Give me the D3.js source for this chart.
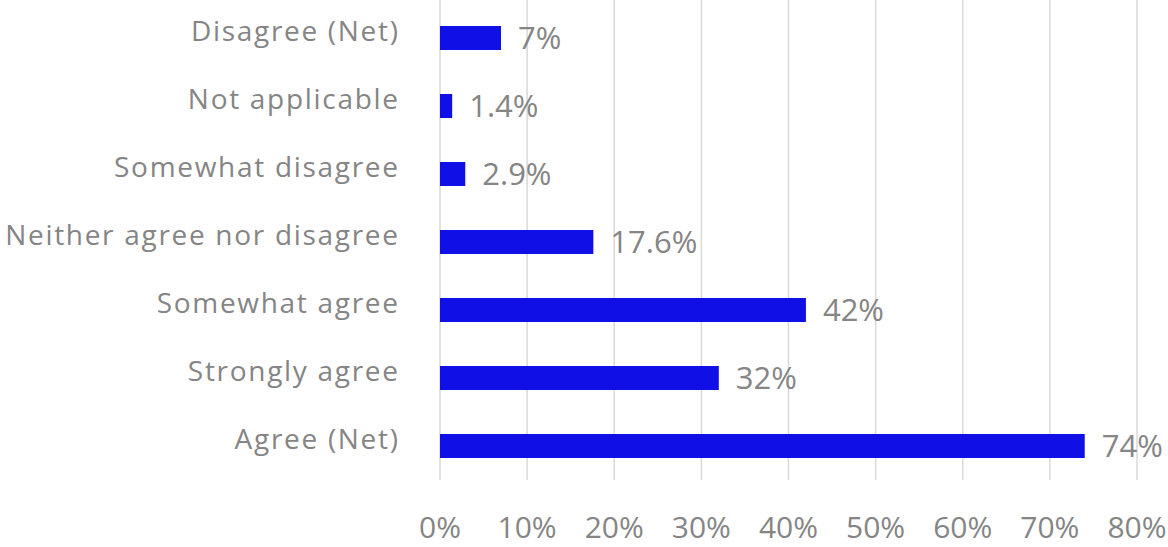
<!DOCTYPE html>
<html>
<head>
<meta charset="utf-8">
<script src="https://cdn.jsdelivr.net/npm/d3@7/dist/d3.min.js"></script>
<style>
  html, body { margin: 0; padding: 0; background: #fff; }
  svg text { font-family: "Open Sans", Lato, sans-serif; font-weight: 400; fill: #858585; }
</style>
</head>
<body>
<svg id="chart" width="1168" height="547"></svg>
<script>
// Survey responses, top to bottom
const categories = [
  "Disagree (Net)",
  "Not applicable",
  "Somewhat disagree",
  "Neither agree nor disagree",
  "Somewhat agree",
  "Strongly agree",
  "Agree (Net)"
];
const values = [7, 1.4, 2.9, 17.6, 42, 32, 74];
const valueLabels = ["7%", "1.4%", "2.9%", "17.6%", "42%", "32%", "74%"];
const tickValues = [0, 10, 20, 30, 40, 50, 60, 70, 80];

const svg = d3.select("#chart");
const labelSize = 28;   // category labels
const numberSize = 31;  // value labels
const tickSize = 30;    // axis tick labels
const labelSpacing = 1.7;

const x = d3.scaleLinear().domain([0, 80]).range([440, 1137]);
const y = d3.scaleBand()
  .domain(categories)
  .range([4, 480])
  .paddingInner(44 / 68)
  .paddingOuter(22 / 68);
const mid = c => y(c) + y.bandwidth() / 2;

// vertical gridlines
svg.append("g")
  .selectAll("line")
  .data(tickValues)
  .join("line")
  .attr("x1", d => x(d)).attr("x2", d => x(d))
  .attr("y1", 0).attr("y2", 480)
  .attr("stroke", "#d9d9d9")
  .attr("stroke-width", 1.5);

// bars
svg.append("g")
  .selectAll("rect")
  .data(values)
  .join("rect")
  .attr("x", x(0))
  .attr("y", (d, i) => y(categories[i]))
  .attr("width", d => x(d) - x(0))
  .attr("height", y.bandwidth())
  .attr("fill", "#1010E6");

// value labels
svg.append("g")
  .selectAll("text")
  .data(values)
  .join("text")
  .attr("x", d => x(d) + 17)
  .attr("y", (d, i) => mid(categories[i]) + 10.5)
  .attr("font-size", numberSize)
  .text((d, i) => valueLabels[i]);

// category labels
svg.append("g")
  .selectAll("text")
  .data(categories)
  .join("text")
  .attr("x", 398 + labelSpacing)
  .attr("y", d => mid(d) + 2.5)
  .attr("text-anchor", "end")
  .attr("font-size", labelSize)
  .attr("letter-spacing", labelSpacing)
  .text(d => d);

// x axis tick labels
svg.append("g")
  .selectAll("text")
  .data(tickValues)
  .join("text")
  .attr("x", d => x(d))
  .attr("y", 538)
  .attr("text-anchor", "middle")
  .attr("font-size", tickSize)
  .text(d => d + "%");
</script>
</body>
</html>
